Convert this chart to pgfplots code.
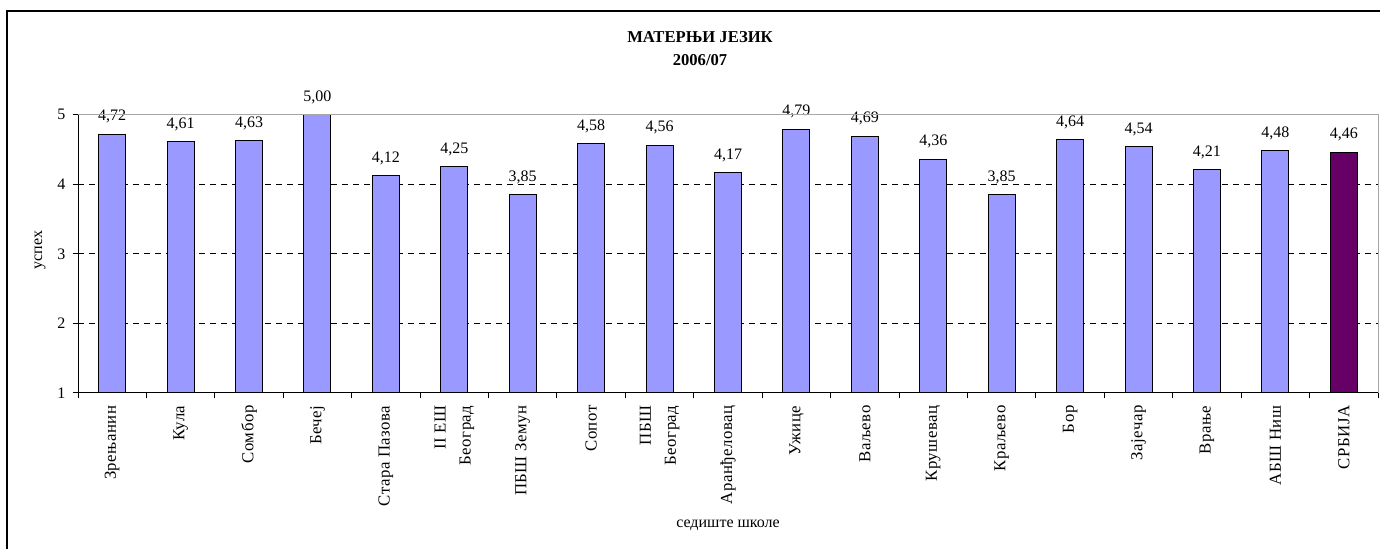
\documentclass[border=0pt]{standalone}
\usepackage{fontspec}
\setmainfont{Liberation Serif}
\newfontfamily\spaced[LetterSpace=3]{Liberation Serif}
\usepackage{pgfplots}
\pgfplotsset{compat=1.18}
\definecolor{barblue}{HTML}{9999FF}
\definecolor{barplum}{HTML}{660066}
\newcommand{\lbl}{\fontsize{8}{9.6}\selectfont}
\newcommand{\xlbl}{\spaced\fontsize{8.4}{12.5}\selectfont}
\begin{document}
\begin{tikzpicture}[x=1pt,y=1pt]
\useasboundingbox (0,0) rectangle (690,274.5);
% outer frame (left and top edges visible)
\draw[line width=0.6pt] (3.5,0) -- (3.5,269) -- (692,269);
\node[font=\fontsize{8.3}{10}\selectfont\bfseries, anchor=base] at (350,253) {МАТЕРЊИ ЈЕЗИК};
\node[font=\fontsize{8.3}{10}\selectfont\bfseries, anchor=base] at (350,241.5) {2006/07};
\node[font=\lbl, rotate=90] at (20,149.5) {успех};
\node[font=\lbl, anchor=base] at (364,10.5) {седиште школе};
\begin{axis}[
    at={(39pt,78pt)}, anchor=south west,
    scale only axis, width=650pt, height=139.15pt,
    xmin=-0.5, xmax=18.5, ymin=1, ymax=5,
    ybar, bar width=13.5pt, bar shift=0pt,
    clip mode=individual,
    axis x line*=bottom, axis y line*=left,
    axis line style={line width=0.5pt},
    tick align=outside,
    major tick length=2.75pt, minor tick length=2.75pt,
    ytick={1,2,3,4,5},
    xtick={0,...,18},
    minor xtick={-0.5,0.5,...,18.5},
    major x tick style={draw=none},
    every tick/.style={black, line width=0.5pt},
    ymajorgrids,
    major grid style={black, line width=0.5pt, dash pattern=on 3pt off 2.5pt},
    /pgf/number format/assume math mode=true,
    yticklabel style={font=\lbl},
    xticklabel style={font=\xlbl, rotate=90, anchor=east, align=right},
    xticklabels={Зрењанин, Кула, Сомбор, Бечеј, Стара Пазова, {II ЕШ\\Београд},
      ПБШ Земун, Сопот, {ПБШ\\Београд}, Аранђеловац, Ужице, Ваљево, Крушевац,
      Краљево, Бор, Зајечар, Врање, АБШ Ниш, СРБИЈА},
    nodes near coords={\pgfmathprintnumber[fixed,fixed zerofill,precision=2,use comma,assume math mode=true]{\pgfplotspointmeta}},
    nodes near coords style={font=\lbl, anchor=base, yshift=6.7pt, inner sep=0pt},
]
\addplot[fill=barblue, draw=black, line width=0.5pt] coordinates {
  (0,4.72) (1,4.61) (2,4.63) (3,5.00) (4,4.12) (5,4.25) (6,3.85) (7,4.58)
  (8,4.56) (9,4.17) (10,4.79) (11,4.69) (12,4.36) (13,3.85) (14,4.64)
  (15,4.54) (16,4.21) (17,4.48)
};
\addplot[fill=barplum, draw=black, line width=0.5pt] coordinates {(18,4.46)};
\draw[gray!70, line width=0.5pt] (rel axis cs:1,0) -- (rel axis cs:1,1) -- (rel axis cs:0,1);
\end{axis}
\end{tikzpicture}
\end{document}
